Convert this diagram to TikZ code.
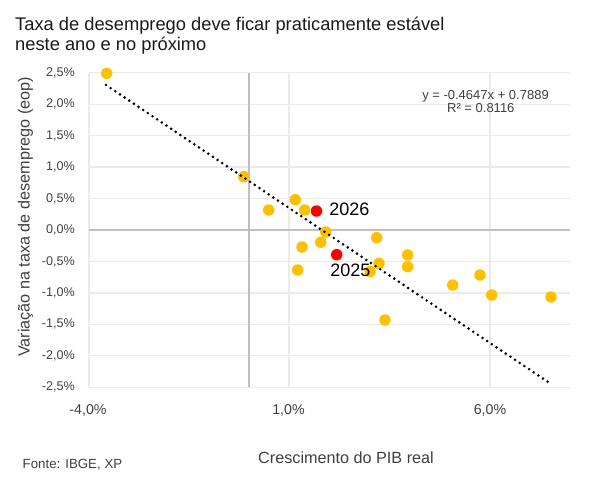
\documentclass[tikz,border=0pt]{standalone}
\usepackage{fontspec}
\setmainfont{Liberation Sans}
\definecolor{xpgold}{HTML}{FFC000}
\definecolor{xpred}{HTML}{FF0000}
\definecolor{gridgray}{HTML}{EBEBEB}
\definecolor{axisgray}{HTML}{BFBFBF}
\definecolor{labgray}{HTML}{404040}
\definecolor{titlegray}{HTML}{1A1A1A}
\begin{document}
\begin{tikzpicture}[x=1pt,y=-1pt,
  gridln/.style={draw=gridgray, line width=1.3pt},
  axisln/.style={draw=axisgray, line width=1.6pt},
  ptY/.style={circle, fill=xpgold, inner sep=0pt, minimum size=11.5pt},
  ptR/.style={circle, fill=xpred, inner sep=0pt, minimum size=11.5pt},
  ylab/.style={anchor=east, text=labgray, inner sep=0pt, font=\fontsize{12.6}{14}\selectfont},
  xlab/.style={anchor=center, text=labgray, inner sep=0pt, font=\fontsize{14.2}{16}\selectfont},
  axtitle/.style={text=labgray, inner sep=0pt, font=\fontsize{16.2}{18}\selectfont},
  titletext/.style={anchor=base west, text=titlegray, inner sep=0pt, font=\fontsize{18.3}{20}\selectfont},
  eqtext/.style={anchor=center, text=labgray, inner sep=0pt, font=\fontsize{13}{14}\selectfont},
  yearlab/.style={anchor=center, text=black, inner sep=0pt, font=\fontsize{18}{20}\selectfont},
  trend/.style={draw=black, line width=2.9pt, line cap=round, dash pattern=on 0pt off 5.6pt}
]
\useasboundingbox (0,0) rectangle (604,485);

% horizontal gridlines
\foreach \v in {2.5,2,1.5,1,0.5,-0.5,-1,-1.5,-2,-2.5}{
  \draw[gridln] (89,{230-62.9*\v}) -- (570,{230-62.9*\v});
}
% vertical gridlines
\foreach \xx in {89,289,490}{
  \draw[gridln] (\xx,72.75) -- (\xx,387.25);
}
% zero axes
\draw[axisln] (89,230) -- (570,230);
\draw[axisln] (249,72.75) -- (249,387.25);

% y tick labels
\node[ylab] (y1) at (75,72.75) {2,5\%};
\node[ylab] (y2) at (75,104.2) {2,0\%};
\node[ylab] (y3) at (75,135.65) {1,5\%};
\node[ylab] (y4) at (75,167.1) {1,0\%};
\node[ylab] (y5) at (75,198.55) {0,5\%};
\node[ylab] (y6) at (75,230) {0,0\%};
\node[ylab] (y7) at (75,261.45) {-0,5\%};
\node[ylab] (y8) at (75,292.9) {-1,0\%};
\node[ylab] (y9) at (75,324.35) {-1,5\%};
\node[ylab] (y10) at (75,355.8) {-2,0\%};
\node[ylab] (y11) at (75,387.25) {-2,5\%};

% x tick labels
\node[xlab] (x1) at (88,410) {-4,0\%};
\node[xlab] (x2) at (288.5,410) {1,0\%};
\node[xlab] (x3) at (490,410) {6,0\%};

% axis titles
\node[axtitle, rotate=90] (ytitle) at (25.5,217) {Variação na taxa de desemprego (eop)};
\node[axtitle] (xtitle) at (346,458) {Crescimento do PIB real};
\node[anchor=west, text=labgray, inner sep=0pt, font=\fontsize{13.3}{15}\selectfont] (fonte) at (22.5,465) {Fonte: IBGE, XP};

% title
\node[titletext] (title1) at (15,30.7) {Taxa de desemprego deve ficar praticamente estável};
\node[titletext] (title2) at (15,50.4) {neste ano e no próximo};

% equation
\node[eqtext] (eq1) at (485.5,96) {y = -0.4647x + 0.7889};
\node[eqtext] (eq2) at (480.8,108.5) {R² = 0.8116};

% data points
\node[ptY] (p1) at (106.7,73.3) {};
\node[ptY] (p2) at (243.7,176.7) {};
\node[ptY] (p3) at (268.7,210) {};
\node[ptY] (p4) at (295.3,199.7) {};
\node[ptY] (p5) at (304.7,210) {};
\node[ptY] (p7) at (325.8,232) {};
\node[ptY] (p8) at (302,247) {};
\node[ptY] (p9) at (320.8,242.2) {};
\node[ptY] (p11) at (297.7,270) {};
\node[ptY] (p12) at (370,271.5) {};
\node[ptY] (p13) at (376.7,237.7) {};
\node[ptY] (p14) at (379,263.3) {};
\node[ptY] (p15) at (407.7,255) {};
\node[ptY] (p16) at (407.7,266.7) {};
\node[ptY] (p17) at (452.7,285) {};
\node[ptY] (p18) at (480,275) {};
\node[ptY] (p19) at (491.7,295) {};
\node[ptY] (p20) at (551,297) {};
\node[ptY] (p21) at (385,320) {};
\node[ptR] (p6) at (316.5,211) {};
\node[ptR] (p10) at (336.7,254.7) {};

% trend line
\coordinate (tA) at (106,85);
\coordinate (tB) at (550,383.3);
\draw[trend] (tA) -- (tB);

% year labels
\node[yearlab] (l2026) at (349.3,209.7) {2026};
\node[yearlab] (l2025) at (350.3,270) {2025};
\end{tikzpicture}
\end{document}
